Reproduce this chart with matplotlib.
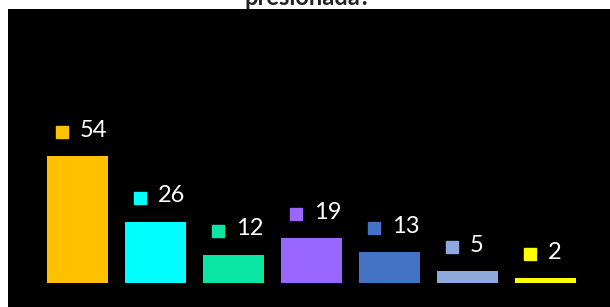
import matplotlib
matplotlib.use("Agg")
import matplotlib.pyplot as plt
from matplotlib.transforms import offset_copy

categories = ["A", "B", "C", "D", "E", "F", "G"]
values = [54, 26, 12, 19, 13, 5, 2]
colors = ["#FFC000", "#00FFFF", "#0CE6A5", "#9966FF", "#4472C4", "#8EA9DB", "#FFFF00"]
title = "presionada?"

plt.rcParams['font.family'] = ['Lato', 'DejaVu Sans']

fig = plt.figure(figsize=(6.10, 3.07), dpi=100)
fig.patch.set_facecolor("white")
ax = fig.add_axes([8/610, 0, 602/610, 298/307])
ax.set_facecolor("black")

x = list(range(len(categories)))
ax.bar(x, values, width=0.78, color=colors)

sq_tr = offset_copy(ax.transData, fig=fig, x=-11.2, y=17.5, units='points')
for i, (v, c) in enumerate(zip(values, colors)):
    ax.plot([i], [v], marker='s', markersize=8.5, color=c, transform=sq_tr,
            linestyle='none', clip_on=False)
    ax.annotate(str(v), (i, v), xytext=(1.8, 18.7), textcoords='offset points',
                ha='left', va='center', color='white', fontsize=17)

ax.set_xlim(-0.891, 6.827)
ax.set_ylim(-10.2, 116.6)
ax.set_xticks([])
ax.set_yticks([])
for s in ax.spines.values():
    s.set_visible(False)

fig.text(308/610, 1 - 5/307, title, ha='center', va='baseline', fontsize=17,
         fontweight='bold', color='#222222')

fig.savefig("out.png", dpi=100, facecolor="white")
